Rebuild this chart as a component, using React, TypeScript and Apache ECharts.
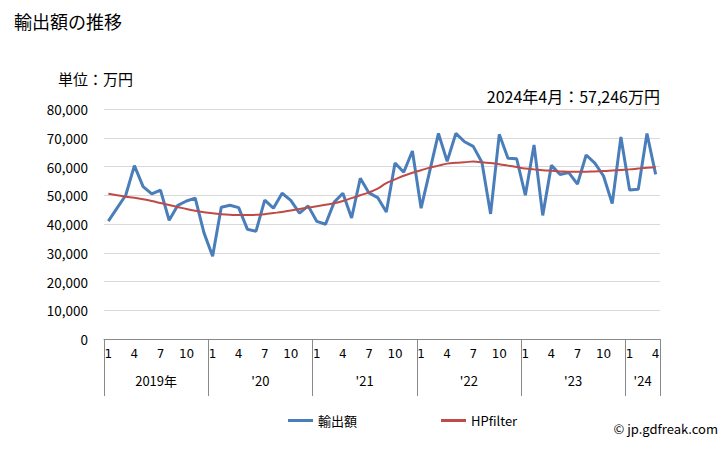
import React, { useEffect, useRef } from "react";
import * as echarts from "echarts";

const years = [2019, 2020, 2021, 2022, 2023, 2024];
const monthsPerYear = [12, 12, 12, 12, 12, 4];
const yearLabels = ["2019年", "'20", "'21", "'22", "'23", "'24"];
const yTicks = [0, 10000, 20000, 30000, 40000, 50000, 60000, 70000, 80000];

const exportValues = [
  41000, 45500, 50000, 60300, 53000, 50500, 51800, 41300, 46500, 48000, 49000, 37000,
  28800, 45800, 46500, 45700, 38200, 37500, 48300, 45500, 50700, 48200, 43800, 46300,
  40900, 39900, 47600, 50700, 42100, 55900, 50800, 49200, 44200, 61200, 58000, 65400,
  45500, 58500, 71500, 61800, 71500, 68600, 67000, 61500, 43500, 71200, 62900, 62700,
  50000, 67500, 43000, 60400, 57200, 57900, 53900, 64000, 61200, 56700, 47100, 70300,
  51800, 52100, 71500, 57246,
];

const hpValues = [
  50500, 50000, 49500, 49100, 48600, 48000, 47300, 46600, 45900, 45200, 44600, 44100,
  43700, 43400, 43200, 43100, 43100, 43200, 43400, 43800, 44200, 44700, 45200, 45700,
  46200, 46700, 47200, 48000, 49000, 50000, 51000, 52300, 54200, 55500, 56800, 57800,
  58700, 59600, 60300, 61000, 61300, 61500, 61700, 61500, 61200, 60800, 60300, 59800,
  59300, 59000, 58700, 58500, 58300, 58200, 58200, 58200, 58300, 58400, 58600, 58800,
  59000, 59300, 59600, 59700,
];

const categories: string[] = [];
years.forEach((y, yi) => {
  for (let m = 1; m <= monthsPerYear[yi]; m++) categories.push(`${y}/${m}`);
});

const yearStarts: number[] = [];
const yearCenters: number[] = [];
{
  let acc = 0;
  monthsPerYear.forEach((n) => {
    yearStarts.push(acc);
    yearCenters.push(acc + n / 2);
    acc += n;
  });
  yearStarts.push(acc);
}

const latestLabel = "2024年4月：57,246万円";

export default function App() {
  const ref = useRef<HTMLDivElement>(null);
  useEffect(() => {
    document.body.style.margin = "0";
    const chart = echarts.init(ref.current!, null, { renderer: "svg" });
    const jp = "'Noto Sans CJK JP', 'Noto Sans', sans-serif";
    const gray = "#898989";
    chart.setOption({
      animation: false,
      textStyle: { fontFamily: jp },
      title: [
        {
          text: "輸出額の推移",
          left: 9,
          top: 7,
          textStyle: { fontSize: 18, fontWeight: "normal", color: "#000", fontFamily: jp },
        },
      ],
      graphic: [
        {
          type: "text",
          left: 58,
          top: 71,
          style: { text: "単位：万円", fontSize: 15, fill: "#000", fontFamily: jp },
        },
        {
          type: "text",
          right: 68,
          top: 88,
          style: { text: latestLabel, fontSize: 16, fill: "#000", fontFamily: jp },
        },
        {
          type: "text",
          right: 10,
          top: 422,
          style: { text: "© jp.gdfreak.com", fontSize: 13, fill: "#000", fontFamily: jp },
        },
      ],
      legend: {
        left: 283,
        top: 409,
        icon: "rect",
        itemWidth: 25,
        itemHeight: 3,
        itemGap: 84,
        textStyle: { fontSize: 13, color: "#000", fontFamily: jp },
        data: ["輸出額", "HPfilter"],
      },
      grid: { left: 104, right: 68, top: 109, bottom: 111 },
      xAxis: [
        {
          type: "category",
          data: categories,
          boundaryGap: true,
          axisLine: { lineStyle: { color: gray } },
          axisTick: { show: false },
          axisLabel: {
            interval: 0,
            margin: 9,
            fontSize: 12,
            color: "#000",
            fontFamily: "'DejaVu Sans', Verdana, sans-serif",
            formatter: (v: string) => {
              const m = v.split("/")[1];
              return ["1", "4", "7", "10"].includes(m) ? m : "";
            },
          },
          splitLine: { show: false },
        },
        {
          type: "value",
          min: 0,
          max: categories.length,
          position: "bottom",
          axisLine: { show: false },
          splitLine: { show: false },
          axisTick: {
            show: true,
            customValues: yearStarts,
            length: 57,
            lineStyle: { color: gray },
          },
          axisLabel: {
            customValues: yearCenters,
            margin: 35,
            fontSize: 13,
            color: "#000",
            fontFamily: jp,
            formatter: (v: number) => {
              const idx = yearCenters.indexOf(v);
              return idx >= 0 ? yearLabels[idx] : "";
            },
          },
        },
      ],
      yAxis: {
        type: "value",
        min: yTicks[0],
        max: yTicks[yTicks.length - 1],
        interval: 10000,
        axisLine: { show: false },
        axisTick: { show: false },
        splitLine: { lineStyle: { color: "#d9d9d9", width: 1 } },
        axisLabel: {
          margin: 16,
          fontSize: 13.5,
          color: "#000",
          fontFamily: jp,
          formatter: (v: number) => v.toLocaleString("en-US"),
        },
      },
      series: [
        {
          name: "輸出額",
          type: "line",
          data: exportValues,
          xAxisIndex: 0,
          symbol: "none",
          lineStyle: { color: "#4a7ebb", width: 3 },
          itemStyle: { color: "#4a7ebb" },
          z: 2,
        },
        {
          name: "HPfilter",
          type: "line",
          data: hpValues,
          xAxisIndex: 0,
          symbol: "none",
          smooth: true,
          lineStyle: { color: "#be4b48", width: 2 },
          itemStyle: { color: "#be4b48" },
          z: 3,
        },
      ],
    });
    return () => chart.dispose();
  }, []);
  return <div ref={ref} style={{ width: 728, height: 450 }} />;
}
